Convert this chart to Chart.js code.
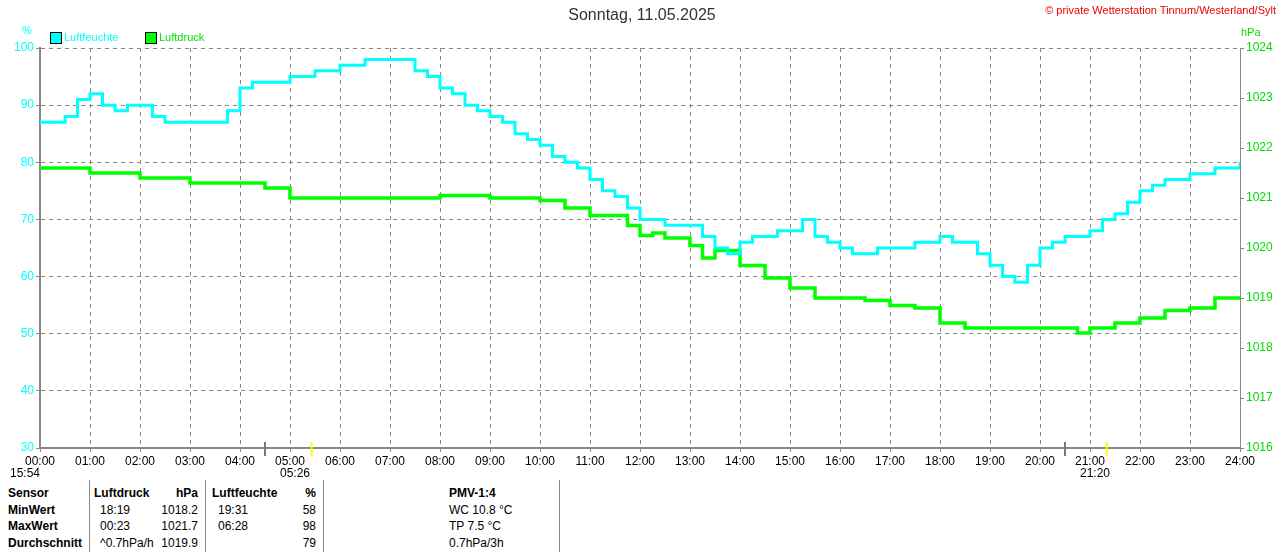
<!DOCTYPE html>
<html><head><meta charset="utf-8">
<script src="https://cdn.jsdelivr.net/npm/chart.js@4.4.0/dist/chart.umd.min.js"></script>
<style>
body{margin:0;background:#fff;font-family:"Liberation Sans",Arial,sans-serif;}
#wrap{position:relative;width:1280px;height:552px;overflow:hidden}
.t{position:absolute;white-space:nowrap;font-size:12px}
.b{font-weight:bold}
.vl{position:absolute;top:480px;height:72px;width:1px;background:#888}
</style></head><body>
<div id="wrap">
<canvas id="c" width="1280" height="480" style="position:absolute;left:0;top:0"></canvas>
<div class="t" style="left:0;width:1284px;text-align:center;top:6px;font-size:16px;color:#333">Sonntag, 11.05.2025</div>
<div class="t" style="right:4px;top:4px;font-size:11px;color:#e00">© private Wetterstation Tinnum/Westerland/Sylt</div>
<div class="t" style="left:22px;top:24px;color:#0ff;font-size:11px">%</div>
<div class="t" style="left:1241px;top:26px;color:#0d0;font-size:11px">hPa</div>
<div style="position:absolute;left:50px;top:32px;width:10px;height:10px;background:#0ff;border:1px solid #000"></div>
<div class="t" style="left:64px;top:31px;color:#0ff;font-size:11px">Luftfeuchte</div>
<div style="position:absolute;left:145px;top:32px;width:10px;height:10px;background:#0f0;border:1px solid #000"></div>
<div class="t" style="left:159px;top:31px;color:#0d0;font-size:11px">Luftdruck</div>
<div class="vl" style="left:89px"></div><div class="vl" style="left:205px"></div><div class="vl" style="left:323px"></div><div class="vl" style="left:559px"></div>
<div id="tbl"></div>
</div>
<script>
const hours=["00:00","01:00","02:00","03:00","04:00","05:00","06:00","07:00","08:00","09:00","10:00","11:00","12:00","13:00","14:00","15:00","16:00","17:00","18:00","19:00","20:00","21:00","22:00","23:00","24:00"];
const humTimes=[0,0.5,0.75,1,1.25,1.5,1.75,2,2.25,2.5,3.5,3.75,4,4.25,4.5,4.75,5,5.25,5.5,6,6.5,7,7.25,7.5,7.75,8,8.25,8.5,8.75,9,9.25,9.5,9.75,10,10.25,10.5,10.75,11,11.25,11.5,11.75,12,12.25,12.5,12.75,13,13.25,13.5,13.75,14,14.25,14.5,14.75,15,15.25,15.5,15.75,16,16.25,16.5,16.75,17,17.25,17.5,17.75,18,18.25,18.5,18.75,19,19.25,19.5,19.75,20,20.25,20.5,20.75,21,21.25,21.5,21.75,22,22.25,22.5,22.75,23,23.25,23.5,23.75,24];
const humVals=[87,88,91,92,90,89,90,90,88,87,87,89,93,94,94,94,95,95,96,97,98,98,98,96,95,93,92,90,89,88,87,85,84,83,81,80,79,77,75,74,72,70,70,69,69,69,67,65,64,66,67,67,68,68,70,67,66,65,64,64,65,65,65,66,66,67,66,66,64,62,60,59,62,65,66,67,67,68,70,71,73,75,76,77,77,78,78,79,79,80];
const presTimes=[0,1,2,3,4,4.5,5,6,7,8,9,9.75,10,10.5,11,11.75,12,12.25,12.5,13,13.25,13.5,14,14.5,15,15.5,16,16.5,17,17.5,18,18.5,19,20,20.75,21,21.5,22,22.5,23,23.5,24];
const presVals=[1021.6,1021.5,1021.4,1021.3,1021.3,1021.2,1021.0,1021.0,1021.0,1021.05,1021.0,1021.0,1020.95,1020.8,1020.65,1020.45,1020.25,1020.3,1020.2,1020.05,1019.8,1019.95,1019.65,1019.4,1019.2,1019.0,1019.0,1018.95,1018.85,1018.8,1018.5,1018.4,1018.4,1018.4,1018.3,1018.4,1018.5,1018.6,1018.75,1018.8,1019.0,1019.0];
const sunMarks=[{t:4.5,type:"gray"},{t:5+26/60,type:"yellow"},{t:20.5,type:"gray"},{t:21+20/60,type:"yellow"}];
const belowLabels=[{t:-0.6,s:"15:54"},{t:4.8,s:"05:26"},{t:20.8,s:"21:20"}];
const table=[["Sensor","Luftdruck","hPa","Luftfeuchte","%","PMV-1:4"],["MinWert","18:19","1018.2","19:31","58","WC 10.8 °C"],["MaxWert","00:23","1021.7","06:28","98","TP 7.5 °C"],["Durchschnitt","^0.7hPa/h","1019.9","","79","0.7hPa/3h"]];

let h='';table.forEach((r,i)=>{const y=486+i*16.5;const b=i==0?' b':'';
h+=`<div class="t b" style="left:8px;top:${y}px">${r[0]}</div>`;
h+=`<div class="t${b}" style="left:${i==0?94:100}px;top:${y}px">${r[1]}</div>`;
h+=`<div class="t${b}" style="right:${1280-198}px;top:${y}px">${r[2]}</div>`;
h+=`<div class="t${b}" style="left:${i==0?212:218}px;top:${y}px">${r[3]}</div>`;
h+=`<div class="t${b}" style="right:${1280-316}px;top:${y}px">${r[4]}</div>`;
h+=`<div class="t${b}" style="left:449px;top:${y}px">${r[5]}</div>`;});
document.getElementById('tbl').innerHTML=h;

const marks={id:'marks',afterDraw(c){const ctx=c.ctx,x=c.scales.x,a=c.chartArea;ctx.save();
 sunMarks.forEach(m=>{const px=x.getPixelForValue(m.t);ctx.fillStyle=m.type=="gray"?"#777":"#ff0";ctx.fillRect(px-1,a.bottom-6,2,14);});
 ctx.font='12px "Liberation Sans",Arial';ctx.fillStyle='#000';ctx.textBaseline='middle';ctx.textAlign='left';
 belowLabels.forEach(l=>{ctx.fillText(l.s,x.getPixelForValue(l.t)+(l.t<0?0:0),a.bottom+26);});
 ctx.restore();}};
const F={size:12,family:'"Liberation Sans",Arial'};
new Chart(document.getElementById('c'),{type:'line',
 data:{datasets:[
  {data:humTimes.map((t,i)=>({x:t,y:humVals[i]})),borderColor:'#0ff',borderWidth:3,stepped:true,pointRadius:0,yAxisID:'y'},
  {data:presTimes.map((t,i)=>({x:t,y:presVals[i]})),borderColor:'#0f0',borderWidth:3.5,stepped:true,pointRadius:0,yAxisID:'y2'}]},
 options:{responsive:false,animation:false,plugins:{legend:{display:false},tooltip:{enabled:false}},
  layout:{padding:{top:48,left:0,right:0,bottom:0}},
  scales:{
   x:{type:'linear',min:0,max:24,afterFit(s){s.height=32},afterBuildTicks(s){s.ticks=hours.map((_,i)=>({value:i}))},
     ticks:{autoSkip:false,maxRotation:0,color:'#000',font:F,padding:2,callback:(v)=>hours[v]},
     grid:{color:'#888',tickLength:4},border:{color:'#888',width:2,dash:[4,4]}},
   y:{position:'left',min:30,max:100,afterFit(s){s.width=40},ticks:{stepSize:10,color:'#0ff',font:F,padding:2},
     grid:{color:'#888',tickLength:4},border:{color:'#888',width:2,dash:[4,4]}},
   y2:{position:'right',min:1016,max:1024,afterFit(s){s.width=40},ticks:{stepSize:1,color:'#0d0',font:F,padding:2,callback:v=>String(v)},
     grid:{drawOnChartArea:false,color:'#888',tickLength:4},border:{color:'#888',width:1}}}},
 plugins:[marks]});
</script></body></html>
